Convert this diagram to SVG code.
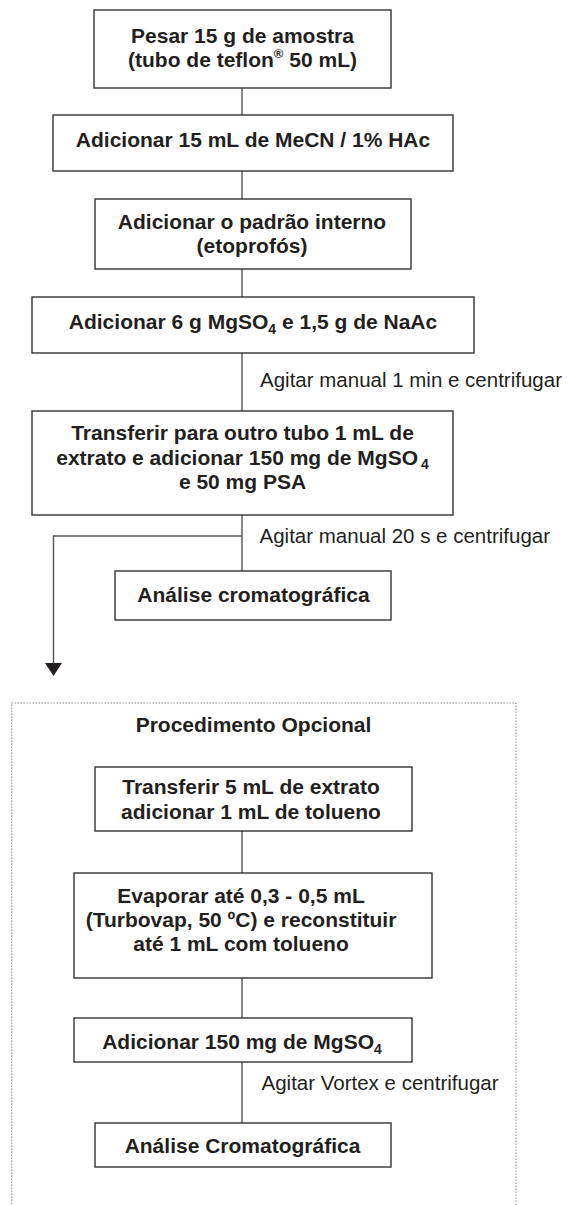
<svg xmlns="http://www.w3.org/2000/svg" width="568" height="1205" viewBox="0 0 568 1205">
<style>
.box{fill:#fff;stroke:#333;stroke-width:1.4}
.b{font-family:"Liberation Sans",Arial,sans-serif;font-weight:bold;font-size:21px;fill:#231f20;text-anchor:middle}
.r{font-family:"Liberation Sans",Arial,sans-serif;font-size:20.5px;fill:#231f20}
.c{fill:none;stroke:#555;stroke-width:1.4}
.sub{font-size:14px}
</style>
<rect width="568" height="1205" fill="#fff"/>
<rect x="11.7" y="703" width="504.3" height="520" fill="none" stroke="#555" stroke-width="1" stroke-dasharray="1 2"/>
<g id="connectors">
<path class="c" d="M242 88V115M242 171V199M242 269V297M242 353V411M242 515V571M242 536H53.5V664M242 831V873M242 978V1018M242 1062V1123"/>
<polygon points="45,663 62,663 53.5,676" fill="#231f20"/>
</g>
<g id="n1"><rect class="box" x="94" y="10" width="297" height="78"/>
<text class="b" x="242.5" y="42.5">Pesar 15 g de amostra</text>
<text class="b" x="242.5" y="66.5">(tubo de teflon<tspan font-size="13" dy="-9">®</tspan><tspan dy="9"> 50 mL)</tspan></text></g>
<g id="n2"><rect class="box" x="53" y="115" width="400" height="56"/>
<text class="b" x="253" y="147">Adicionar 15 mL de MeCN / 1% HAc</text></g>
<g id="n3"><rect class="box" x="95" y="199" width="316" height="70"/>
<text class="b" x="252" y="228.5">Adicionar o padrão interno</text>
<text class="b" x="252" y="253">(etoprofós)</text></g>
<g id="n4"><rect class="box" x="32" y="297" width="442" height="56"/>
<text class="b" x="253" y="328.5">Adicionar 6 g MgSO<tspan class="sub" dy="5">4</tspan><tspan dy="-5"> e 1,5 g de NaAc</tspan></text></g>
<text id="l1" class="r" x="260" y="387">Agitar manual 1 min e centrifugar</text>
<g id="n5"><rect class="box" x="32" y="411" width="421" height="104"/>
<text class="b" x="242.5" y="440">Transferir para outro tubo 1 mL de</text>
<text class="b" x="242.5" y="464.5">extrato e adicionar 150 mg de MgSO<tspan class="sub" dx="3" dy="4">4</tspan></text>
<text class="b" x="242.5" y="489">e 50 mg PSA</text></g>
<text id="l2" class="r" x="259.5" y="543">Agitar manual 20 s e centrifugar</text>
<g id="n6"><rect class="box" x="115" y="571" width="276" height="49"/>
<text class="b" x="253.5" y="601.5">Análise cromatográfica</text></g>
<g id="opt"><text class="b" x="253.5" y="732">Procedimento Opcional</text></g>
<g id="n7"><rect class="box" x="95" y="767" width="317" height="64"/>
<text class="b" x="251" y="794">Transferir 5 mL de extrato</text>
<text class="b" x="251" y="818.5">adicionar 1 mL de tolueno</text></g>
<g id="n8"><rect class="box" x="74" y="873" width="358" height="105"/>
<text class="b" x="241" y="902.5">Evaporar até 0,3 - 0,5 mL</text>
<text class="b" x="241" y="926.5">(Turbovap, 50 ºC) e reconstituir</text>
<text class="b" x="241" y="950.5">até 1 mL com tolueno</text></g>
<g id="n9"><rect class="box" x="74" y="1018" width="338" height="44"/>
<text class="b" x="242" y="1048.5">Adicionar 150 mg de MgSO<tspan class="sub" dy="5">4</tspan></text></g>
<text id="l3" class="r" x="261.5" y="1090">Agitar Vortex e centrifugar</text>
<g id="n10"><rect class="box" x="95" y="1123" width="296" height="44"/>
<text class="b" x="242.5" y="1153">Análise Cromatográfica</text></g>
</svg>
